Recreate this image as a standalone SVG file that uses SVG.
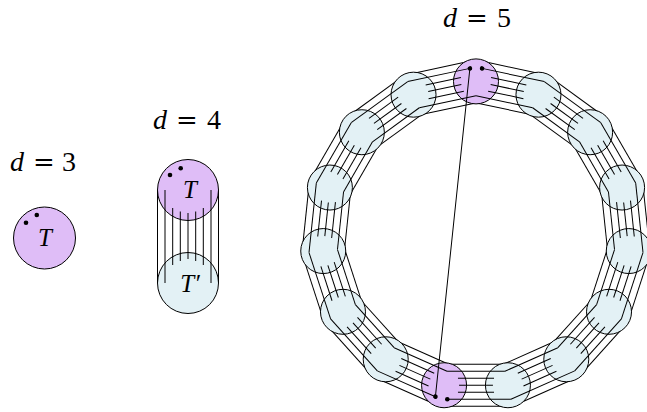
<svg xmlns="http://www.w3.org/2000/svg" width="647" height="412" viewBox="0 0 647 412">
<style>
 .ln{stroke:#000;stroke-width:1;fill:none}
 .p{fill:#dfbdf7;stroke:#000;stroke-width:1}
 .c{fill:#e3f1f5;stroke:#000;stroke-width:1}
 .dot{fill:#000;stroke:none}
 .lbl{font-family:"Liberation Serif","Times New Roman",serif;font-size:28px;fill:#000}
 .eq{font-family:"DejaVu Serif",serif;font-size:26px;font-style:normal}
 .it{font-style:italic}
 .tl{font-family:"Liberation Serif","Times New Roman",serif;font-style:italic;font-size:25px;text-anchor:middle;fill:#000}
</style>
<defs>
 <g id="back" class="ln">
  <line x1="-31.93" y1="-171.24" x2="31.93" y2="-171.24"/>
  <line x1="-31.93" y1="-129.24" x2="31.93" y2="-129.24"/>
 </g>
 <g id="ticks" class="ln">
  <line x1="-18.03" y1="-157.24" x2="18.03" y2="-157.24"/>
  <line x1="-16.93" y1="-150.24" x2="16.93" y2="-150.24"/>
  <line x1="-18.03" y1="-143.24" x2="18.03" y2="-143.24"/>
  <line x1="-28.95" y1="-136.24" x2="28.95" y2="-136.24"/>
 </g>
 <g id="over"><use href="#ticks"/><line class="ln" x1="-34.91" y1="-164.24" x2="34.91" y2="-164.24"/></g>
 <g id="overA"><use href="#ticks"/><line class="ln" x1="-28.7" y1="-164.24" x2="34.91" y2="-164.24"/><circle class="dot" cx="-28.7" cy="-164.24" r="2.3"/></g>
 <g id="overB"><use href="#ticks"/><line class="ln" x1="-34.91" y1="-164.24" x2="28.7" y2="-164.24"/><circle class="dot" cx="28.7" cy="-164.24" r="2.3"/></g>
</defs>

<g id="labels" class="lbl">
 <text y="171"><tspan x="10" class="it">d</tspan><tspan x="33" class="eq">=</tspan><tspan x="62">3</tspan></text>
 <text y="129"><tspan x="153" class="it">d</tspan><tspan x="176" class="eq">=</tspan><tspan x="207">4</tspan></text>
 <text y="27"><tspan x="443" class="it">d</tspan><tspan x="466" class="eq">=</tspan><tspan x="497">5</tspan></text>
</g>

<!-- d = 3 -->
<g id="node-d3-T">
 <circle class="p" cx="44.5" cy="238" r="31"/>
 <circle class="dot" cx="26" cy="222.7" r="2.3"/>
 <circle class="dot" cx="36.8" cy="215" r="2.3"/>
 <text class="tl" x="45" y="246">T</text>
</g>

<!-- d = 4 -->
<g id="node-d4-T">
 <circle class="p" cx="188" cy="190" r="30.5"/>
 <circle class="dot" cx="170" cy="175" r="2.3"/>
 <circle class="dot" cx="180.7" cy="168.3" r="2.3"/>
 <text class="tl" x="190" y="198">T</text>
</g>
<g id="node-d4-Tp">
 <circle class="c" cx="188" cy="283" r="30.5"/>
 <text class="tl" x="190" y="292">T′</text>
</g>
<g id="connectors-d4" class="ln">
 <line x1="157.5" y1="190" x2="157.5" y2="283"/>
 <line x1="218.5" y1="190" x2="218.5" y2="283"/>
 <line x1="165" y1="190" x2="165" y2="283"/>
 <line x1="211" y1="190" x2="211" y2="283"/>
 <line x1="172.7" y1="208" x2="172.7" y2="265"/>
 <line x1="203.3" y1="208" x2="203.3" y2="265"/>
 <line x1="180.3" y1="211.5" x2="180.3" y2="261"/>
 <line x1="195.7" y1="211.5" x2="195.7" y2="261"/>
 <line x1="188" y1="213" x2="188" y2="259"/>
</g>

<!-- d = 5 ring -->
<g id="connectors-ring-back">
 <use href="#back" transform="translate(476 235) rotate(12)"/>
 <use href="#back" transform="translate(476 235) rotate(36)"/>
 <use href="#back" transform="translate(476 235) rotate(60)"/>
 <use href="#back" transform="translate(476 235) rotate(84)"/>
 <use href="#back" transform="translate(476 235) rotate(108)"/>
 <use href="#back" transform="translate(476 235) rotate(132)"/>
 <use href="#back" transform="translate(476 235) rotate(156)"/>
 <use href="#back" transform="translate(476 235) rotate(180)"/>
 <use href="#back" transform="translate(476 235) rotate(204)"/>
 <use href="#back" transform="translate(476 235) rotate(228)"/>
 <use href="#back" transform="translate(476 235) rotate(252)"/>
 <use href="#back" transform="translate(476 235) rotate(276)"/>
 <use href="#back" transform="translate(476 235) rotate(300)"/>
 <use href="#back" transform="translate(476 235) rotate(324)"/>
 <use href="#back" transform="translate(476 235) rotate(348)"/>
</g>

<g id="node-r0"><circle class="p" cx="476" cy="81.4" r="22.5"/></g>
<g id="node-r1"><circle class="c" cx="538.47" cy="94.68" r="22.5"/></g>
<g id="node-r2"><circle class="c" cx="590.14" cy="132.22" r="22.5"/></g>
<g id="node-r3"><circle class="c" cx="622.09" cy="187.54" r="22.5"/></g>
<g id="node-r4"><circle class="c" cx="628.76" cy="251.06" r="22.5"/></g>
<g id="node-r5"><circle class="c" cx="609.02" cy="311.8" r="22.5"/></g>
<g id="node-r6"><circle class="c" cx="566.29" cy="359.27" r="22.5"/></g>
<g id="node-r7"><circle class="c" cx="507.93" cy="385.24" r="22.5"/></g>
<g id="node-r8"><circle class="p" cx="444.07" cy="385.24" r="22.5"/></g>
<g id="node-r9"><circle class="c" cx="385.71" cy="359.27" r="22.5"/></g>
<g id="node-r10"><circle class="c" cx="342.98" cy="311.8" r="22.5"/></g>
<g id="node-r11"><circle class="c" cx="323.24" cy="251.06" r="22.5"/></g>
<g id="node-r12"><circle class="c" cx="329.91" cy="187.54" r="22.5"/></g>
<g id="node-r13"><circle class="c" cx="361.86" cy="132.22" r="22.5"/></g>
<g id="node-r14"><circle class="c" cx="413.53" cy="94.68" r="22.5"/></g>

<g id="connectors-ring">
 <use href="#overA" transform="translate(476 235) rotate(12)"/>
 <use href="#over" transform="translate(476 235) rotate(36)"/>
 <use href="#over" transform="translate(476 235) rotate(60)"/>
 <use href="#over" transform="translate(476 235) rotate(84)"/>
 <use href="#over" transform="translate(476 235) rotate(108)"/>
 <use href="#over" transform="translate(476 235) rotate(132)"/>
 <use href="#over" transform="translate(476 235) rotate(156)"/>
 <use href="#overB" transform="translate(476 235) rotate(180)"/>
 <use href="#overA" transform="translate(476 235) rotate(204)"/>
 <use href="#over" transform="translate(476 235) rotate(228)"/>
 <use href="#over" transform="translate(476 235) rotate(252)"/>
 <use href="#over" transform="translate(476 235) rotate(276)"/>
 <use href="#over" transform="translate(476 235) rotate(300)"/>
 <use href="#over" transform="translate(476 235) rotate(324)"/>
 <use href="#overB" transform="translate(476 235) rotate(348)"/>
 <line class="ln" x1="469.9" y1="68.4" x2="435.4" y2="396.7"/>
</g>
</svg>
